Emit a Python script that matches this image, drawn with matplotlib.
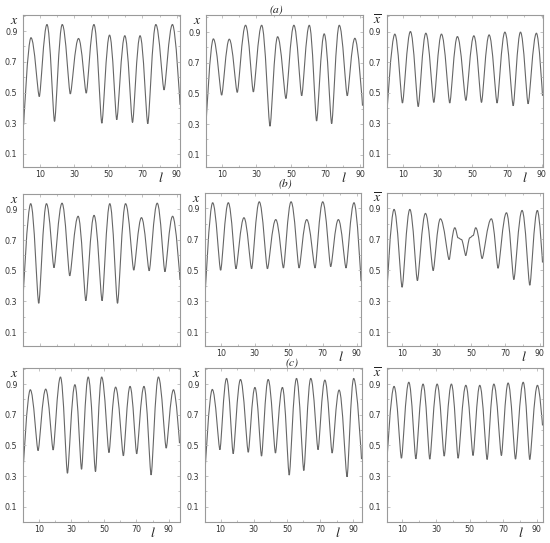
import matplotlib
matplotlib.use("Agg")
import matplotlib.pyplot as plt
from matplotlib.path import Path
from matplotlib.patches import PathPatch
from matplotlib.ticker import MultipleLocator, FixedLocator
import matplotlib.transforms as mtransforms

plt.rcParams['mathtext.fontset'] = 'stix'

# ---------------- data (extrema of each curve) ----------
a1_l = [0.7, 4.95, 9.8, 14.3, 18.7, 23.2, 27.9, 32.7, 37.2, 41.7, 46.3, 50.8, 55.0, 59.7, 64.2, 68.6, 73.1, 77.8, 82.6, 87.5, 91.9]
a1_x = [0.29, 0.857, 0.474, 0.943, 0.312, 0.943, 0.491, 0.852, 0.496, 0.943, 0.30, 0.874, 0.323, 0.87, 0.305, 0.87, 0.297, 0.943, 0.517, 0.943, 0.42]

a2_l = [1.0, 5.2, 10.0, 14.4, 19.0, 23.8, 28.3, 33.1, 37.9, 42.3, 47.1, 51.7, 56.2, 60.6, 64.8, 69.2, 73.5, 77.9, 82.5, 86.9, 91.3]
a2_x = [0.30, 0.856, 0.489, 0.854, 0.507, 0.945, 0.51, 0.945, 0.286, 0.87, 0.467, 0.945, 0.485, 0.945, 0.32, 0.889, 0.303, 0.945, 0.485, 0.86, 0.42]

a3_l = [0.4, 5.2, 9.6, 14.2, 18.7, 23.1, 27.7, 32.1, 36.9, 41.3, 46.2, 50.8, 55.2, 59.6, 64.2, 68.7, 73.5, 77.7, 82.1, 86.9, 90.4]
a3_x = [0.32, 0.883, 0.433, 0.90, 0.41, 0.889, 0.437, 0.883, 0.433, 0.867, 0.45, 0.872, 0.437, 0.878, 0.433, 0.896, 0.415, 0.896, 0.428, 0.889, 0.48]

b1_l = [0.3, 4.8, 9.5, 14.0, 18.4, 23.1, 27.6, 32.5, 37.0, 41.8, 46.5, 51.0, 55.5, 60.2, 65.0, 69.5, 74.0, 78.7, 83.2, 87.7, 92.0]
b1_x = [0.31, 0.937, 0.288, 0.937, 0.52, 0.94, 0.467, 0.855, 0.305, 0.861, 0.305, 0.937, 0.288, 0.937, 0.504, 0.846, 0.50, 0.94, 0.494, 0.855, 0.44]

b2_l = [0.8, 5.3, 10.0, 14.5, 19.0, 23.7, 28.2, 32.7, 37.5, 42.4, 46.9, 51.4, 56.1, 60.6, 65.5, 70.0, 74.7, 79.2, 83.7, 88.4, 92.5]
b2_x = [0.32, 0.937, 0.50, 0.937, 0.51, 0.84, 0.51, 0.943, 0.51, 0.828, 0.515, 0.943, 0.515, 0.828, 0.515, 0.943, 0.524, 0.828, 0.515, 0.937, 0.43]

b3_l = [0.7, 5.1, 9.8, 14.3, 18.7, 23.4, 27.9, 32.1, 37.2, 40.5, 42.4, 44.4, 46.9, 49.2, 51.2, 52.7, 56.4, 61.8, 65.7, 70.6, 74.9, 79.7, 84.2, 88.6, 91.6]
b3_x = [0.31, 0.894, 0.39, 0.894, 0.433, 0.868, 0.498, 0.833, 0.569, 0.775, 0.71, 0.699, 0.595, 0.71, 0.725, 0.775, 0.576, 0.833, 0.513, 0.872, 0.44, 0.887, 0.403, 0.887, 0.55]

c1_l = [0.1, 4.6, 9.4, 14.1, 18.7, 23.2, 27.5, 32.1, 36.2, 40.3, 44.8, 48.6, 53.1, 57.2, 62.0, 66.1, 70.2, 74.7, 79.1, 83.6, 88.4, 92.9, 96.6]
c1_x = [0.32, 0.863, 0.466, 0.867, 0.47, 0.946, 0.318, 0.896, 0.344, 0.946, 0.329, 0.946, 0.453, 0.88, 0.432, 0.885, 0.445, 0.885, 0.307, 0.946, 0.482, 0.863, 0.514]

c2_l = [0.6, 5.0, 9.6, 13.6, 17.6, 22.0, 26.7, 30.7, 34.7, 38.7, 43.1, 47.3, 51.4, 55.8, 60.2, 64.4, 68.8, 72.9, 77.3, 81.5, 86.3, 90.3, 95.0]
c2_x = [0.32, 0.865, 0.472, 0.937, 0.446, 0.93, 0.455, 0.878, 0.43, 0.93, 0.45, 0.878, 0.306, 0.937, 0.336, 0.937, 0.472, 0.926, 0.45, 0.861, 0.295, 0.937, 0.41]

c3_l = [0.5, 5.0, 9.4, 13.8, 18.0, 22.3, 26.3, 30.7, 34.9, 39.2, 43.2, 47.8, 52.1, 56.1, 60.5, 64.5, 69.0, 73.0, 77.4, 82.0, 85.9, 90.5, 93.5]
c3_x = [0.35, 0.885, 0.416, 0.912, 0.412, 0.90, 0.41, 0.90, 0.43, 0.90, 0.416, 0.892, 0.434, 0.892, 0.408, 0.90, 0.434, 0.907, 0.41, 0.912, 0.408, 0.892, 0.63]

x_ticks = [10, 30, 50, 70, 90]
y_ticks = [0.1, 0.3, 0.5, 0.7, 0.9]
row_titles = ['(a)', '(b)', '(c)']
y_label = '$x$'
y_label_mean = r'$\overline{x}$'
x_label = '$l$'

# ---------------- layout --------------------------------------------------------
W, H = 550, 543
fig = plt.figure(figsize=(W / 100, H / 100), dpi=100)
fig.patch.set_facecolor('white')

panels = [
    # l-data, x-data, (left, top, right, bottom) px, xlim, ylim, ylabel, show xticklabels
    (a1_l, a1_x, (23, 15, 180, 167), (0.3, 91.9), (0.015, 1.005), y_label, True),
    (a2_l, a2_x, (206, 15, 362.5, 167), (0.96, 91.3), (0.02, 1.012), y_label, True),
    (a3_l, a3_x, (386.5, 15, 542.5, 167), (0.4, 90.4), (0.015, 1.008), y_label_mean, True),
    (b1_l, b1_x, (23, 194, 180, 346), (0.3, 92.0), (0.01, 1.0), y_label, False),
    (b2_l, b2_x, (205, 193, 361, 346), (0.8, 92.5), (0.01, 1.0), y_label, True),
    (b3_l, b3_x, (386.5, 193, 542.5, 346), (0.7, 91.6), (0.01, 1.0), y_label_mean, True),
    (c1_l, c1_x, (23, 368, 179.5, 522), (0.1, 96.6), (0.0, 1.005), y_label, True),
    (c2_l, c2_x, (205, 368, 361.5, 522), (0.6, 95.0), (0.0, 1.005), y_label, True),
    (c3_l, c3_x, (386.5, 368, 542.5, 522), (0.5, 93.5), (0.0, 1.005), y_label_mean, True),
]

line_col = '#666666'
frame_col = '#9a9a9a'
text_col = '#333333'


def smooth_path(ls, xs):
    n = len(ls)

    def k(i):
        if i == 0 or i == n - 1:
            return 0.0
        if xs[i] > xs[i - 1] and xs[i] > xs[i + 1]:
            return 0.42
        if xs[i] < xs[i - 1] and xs[i] < xs[i + 1]:
            return 0.2
        return 0.3

    verts = [(ls[0], xs[0])]
    codes = [Path.MOVETO]
    for i in range(n - 1):
        dl = ls[i + 1] - ls[i]
        verts += [(ls[i] + k(i) * dl, xs[i]),
                  (ls[i + 1] - k(i + 1) * dl, xs[i + 1]),
                  (ls[i + 1], xs[i + 1])]
        codes += [Path.CURVE4] * 3
    return Path(verts, codes)


for (ls, xs, box, xl, yl, ylab, showx) in panels:
    left, top, right, bottom = box
    ax = fig.add_axes([left / W, 1 - bottom / H, (right - left) / W, (bottom - top) / H])
    ax.add_patch(PathPatch(smooth_path(ls, xs), facecolor='none',
                           edgecolor=line_col, lw=0.8))
    ax.set_xlim(*xl)
    ax.set_ylim(*yl)
    ax.xaxis.set_major_locator(FixedLocator(x_ticks))
    ax.yaxis.set_major_locator(FixedLocator(y_ticks))
    ax.xaxis.set_minor_locator(MultipleLocator(10))
    ax.yaxis.set_minor_locator(MultipleLocator(0.1))
    for s in ax.spines.values():
        s.set_color(frame_col)
        s.set_linewidth(0.8)
    ax.tick_params(which='both', direction='in', color='#b8b8b8',
                   top=True, right=True, width=0.6)
    ax.tick_params(which='major', length=2.5)
    ax.tick_params(which='minor', length=1.5)
    ax.tick_params(axis='x', labelsize=5.7, labelcolor=text_col, pad=2.3)
    ax.tick_params(axis='y', labelsize=5.7, labelcolor=text_col, pad=4.0)
    if not showx:
        ax.set_xticklabels([])
    else:
        ax.set_xticklabels([str(t) for t in x_ticks])
        tr = mtransforms.blended_transform_factory(ax.transData, ax.transAxes)
        tr = mtransforms.offset_copy(tr, fig=fig, x=0, y=-11, units='dots')
        ax.text(80.5, 0, x_label, transform=tr, ha='center', va='center',
                fontsize=10, color='#222222')
    ax.set_yticklabels([f'{t:.1f}' for t in y_ticks])
    trl = mtransforms.offset_copy(ax.transAxes, fig=fig, x=-9, y=-5, units='dots')
    ax.text(0, 1, ylab, transform=trl, ha='center', va='center',
            fontsize=10, color='#222222')

for title, (cx, cy) in zip(row_titles, [(276, 10), (285, 185), (292, 363.5)]):
    fig.text(cx / W, 1 - cy / H, title, ha='center', va='center',
             fontsize=8.5, family='STIXGeneral', style='italic', color='#222222')

fig.savefig('out.png', dpi=100, facecolor='white')
